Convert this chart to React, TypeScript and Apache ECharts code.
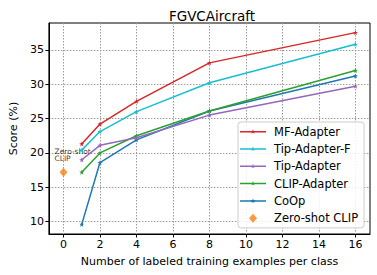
import React, { useEffect, useRef } from "react";
import * as echarts from "echarts";

const shots = [1, 2, 4, 8, 16];
const mfAdapter = [21.3, 24.2, 27.5, 33.1, 37.5];
const tipAdapterF = [20.4, 23.1, 26.0, 30.2, 35.8];
const tipAdapter = [19.0, 21.1, 22.2, 25.5, 29.7];
const clipAdapter = [17.2, 20.0, 22.5, 26.1, 32.0];
const coop = [9.6, 18.6, 21.9, 26.1, 31.2];
const zeroShot = [[0, 17.2]];
const xTicks = [0, 2, 4, 6, 8, 10, 12, 14, 16];
const yTicks = [10, 15, 20, 25, 30, 35];

const STAR =
  "path://M0,-10 L2.35,-3.24 L9.51,-3.09 L3.8,1.24 L5.88,8.09 L0,4 L-5.88,8.09 L-3.8,1.24 L-9.51,-3.09 L-2.35,-3.24 Z";
const LEGEND_LINE =
  "path://M0,0 M26,12 M0,5.25 L26,5.25 L26,6.75 L0,6.75 Z M13,3.5 L13.6,5.2 L15.4,5.2 L14,6.3 L14.5,8 L13,7 L11.5,8 L12,6.3 L10.6,5.2 L12.4,5.2 Z";
const LEGEND_DIAMOND = "path://M0,0 M26,12 M13,1.5 L17,6 L13,10.5 L9,6 Z";
const FONT = "DejaVu Sans";
const GRID_STYLE = { color: "#9a9a9a", type: [1.5, 1.5], width: 1 };

function lineSeries(name: string, vals: number[], color: string) {
  return {
    name,
    type: "line",
    data: shots.map((s, i) => [s, vals[i]]),
    symbol: STAR,
    symbolSize: 5,
    lineStyle: { color, width: 1.5 },
    itemStyle: { color },
    clip: false,
  };
}

export default function App() {
  const ref = useRef<HTMLDivElement>(null);
  useEffect(() => {
    const chart = echarts.init(ref.current!, null, { renderer: "svg" });
    chart.setOption({
      animation: false,
      backgroundColor: "#fff",
      title: {
        text: "FGVCAircraft",
        left: 207,
        top: 4,
        textAlign: "center",
        textStyle: { fontFamily: FONT, fontSize: 13.5, fontWeight: "normal", color: "#000" },
      },
      grid: { left: 44, right: 7, top: 23, bottom: 41, show: true, borderColor: "#000", borderWidth: 1 },
      xAxis: {
        type: "value",
        min: -0.8,
        max: 16.8,
        name: "Number of labeled training examples per class",
        nameLocation: "middle",
        nameGap: 22,
        nameTextStyle: { fontFamily: FONT, fontSize: 11, color: "#000" },
        axisLine: { show: true, onZero: false, lineStyle: { color: "#000" } },
        axisTick: { show: true, length: 3.5, lineStyle: { color: "#000" }, customValues: xTicks },
        axisLabel: { fontFamily: FONT, fontSize: 11, color: "#000", margin: 5, customValues: xTicks },
        splitLine: { show: true, lineStyle: GRID_STYLE },
      },
      yAxis: {
        type: "value",
        min: 8.2,
        max: 38.9,
        name: "Score (%)",
        nameLocation: "middle",
        nameGap: 26,
        nameTextStyle: { fontFamily: FONT, fontSize: 11, color: "#000" },
        axisLine: { show: true, onZero: false, lineStyle: { color: "#000" } },
        axisTick: { show: true, length: 3.5, lineStyle: { color: "#000" }, customValues: yTicks },
        axisLabel: { fontFamily: FONT, fontSize: 11, color: "#000", margin: 5, customValues: yTicks },
        splitLine: { show: true, lineStyle: GRID_STYLE },
      },
      legend: {
        orient: "vertical",
        left: 238,
        top: 122,
        padding: [3.7, 6, 3.7, 2],
        itemWidth: 26,
        itemHeight: 12,
        itemGap: 5.3,
        symbolKeepAspect: false,
        itemStyle: { borderWidth: 0 },
        backgroundColor: "rgba(255,255,255,0.85)",
        borderColor: "#cccccc",
        borderWidth: 1,
        borderRadius: 3,
        textStyle: { fontFamily: FONT, fontSize: 11.5, color: "#000", lineHeight: 12, padding: [0, 0, 0, 3] },
        data: [
          { name: "MF-Adapter", icon: LEGEND_LINE },
          { name: "Tip-Adapter-F", icon: LEGEND_LINE },
          { name: "Tip-Adapter", icon: LEGEND_LINE },
          { name: "CLIP-Adapter", icon: LEGEND_LINE },
          { name: "CoOp", icon: LEGEND_LINE },
          { name: "Zero-shot CLIP", icon: LEGEND_DIAMOND },
        ],
      },
      series: [
        lineSeries("CoOp", coop, "#1f77b4"),
        lineSeries("CLIP-Adapter", clipAdapter, "#2ca02c"),
        lineSeries("Tip-Adapter", tipAdapter, "#9467bd"),
        lineSeries("Tip-Adapter-F", tipAdapterF, "#17becf"),
        lineSeries("MF-Adapter", mfAdapter, "#d62728"),
        {
          name: "Zero-shot CLIP",
          type: "scatter",
          data: zeroShot,
          symbol: "diamond",
          symbolSize: [8, 9],
          itemStyle: { color: "#ff7f0e" },
          clip: false,
          label: {
            show: true,
            formatter: "Zero-shot\nCLIP",
            position: "top",
            distance: 5,
            offset: [-9, 0],
            align: "left",
            fontFamily: FONT,
            fontSize: 7.5,
            lineHeight: 7.5,
            color: "#000",
          },
        },
      ],
    });
    return () => chart.dispose();
  }, []);
  return (
    <div
      ref={ref}
      style={{ position: "fixed", left: 0, top: 0, width: 377, height: 275 }}
    />
  );
}
